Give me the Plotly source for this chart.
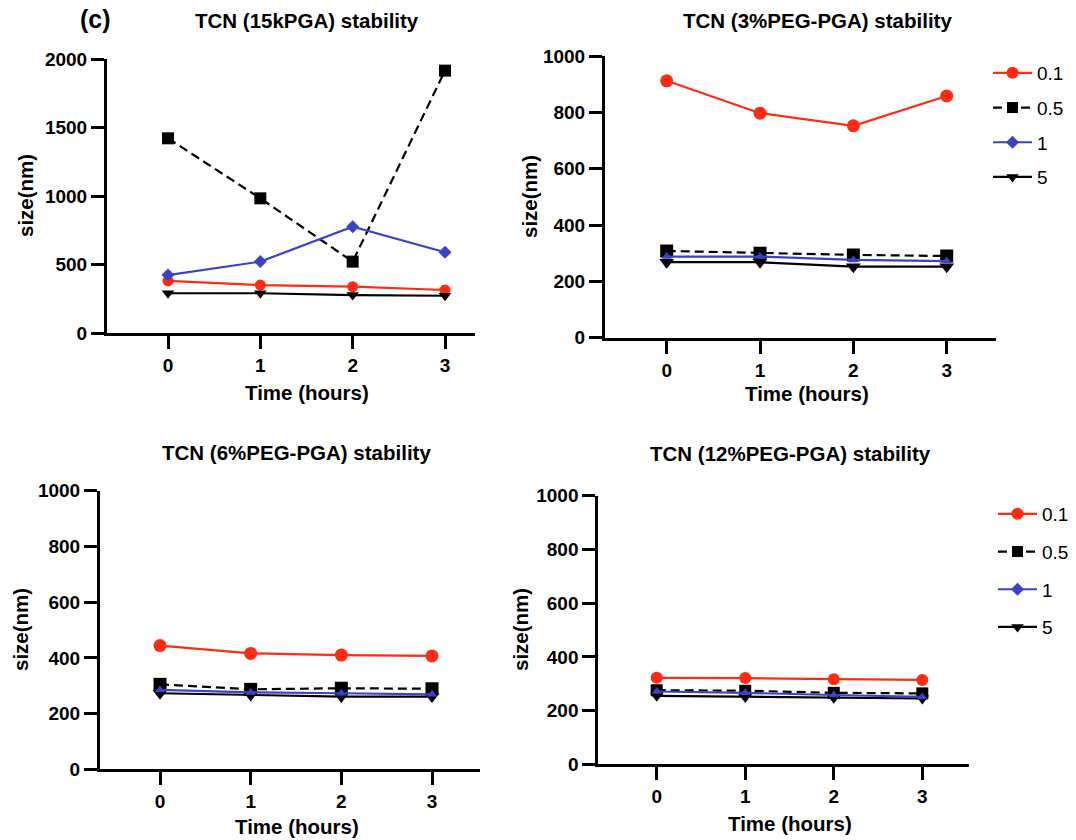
import plotly.graph_objects as go

# ---- data -----------------------------------------------------------------
hours = [0, 1, 2, 3]
series_names = ["0.1", "0.5", "1", "5"]

p1_titles = "TCN (15kPGA) stability"
p2_titles = "TCN (3%PEG-PGA) stability"
p3_titles = "TCN (6%PEG-PGA) stability"
p4_titles = "TCN (12%PEG-PGA) stability"

pga15_01 = [380, 350, 338, 314]
pga15_05 = [1421, 983, 521, 1915]
pga15_1 = [423, 521, 776, 589]
pga15_5 = [290, 290, 277, 272]

peg3_01 = [912, 797, 752, 858]
peg3_05 = [308, 300, 294, 290]
peg3_1 = [288, 288, 276, 272]
peg3_5 = [268, 268, 252, 252]

peg6_01 = [444, 416, 410, 407]
peg6_05 = [305, 287, 291, 289]
peg6_1 = [285, 276, 273, 269]
peg6_5 = [273, 267, 261, 261]

peg12_01 = [322, 321, 317, 314]
peg12_05 = [276, 274, 266, 264]
peg12_1 = [271, 266, 258, 251]
peg12_5 = [255, 251, 248, 245]

y_ticks_big = [0, 500, 1000, 1500, 2000]
y_ticks_small = [0, 200, 400, 600, 800, 1000]

# ---- styling --------------------------------------------------------------
W, H = 1076, 840
FONT = "Liberation Sans, Arial, Helvetica, sans-serif"
RED = "#FF2B12"
BLUE = "#3A43C6"
BLACK = "#000000"
DASH = "9px,5px"


def fx(px):
    return px / W


def fy(py):
    return 1 - py / H


# panel geometry in pixels: axis left/right, tick 0 / tick 3 positions,
# y position of 0 and of the top value
panels = [
    dict(left=107, right=475, t0=168, t3=445, ybot=333, ytop=59, ymax=2000,
         ticks=y_ticks_big, title=p1_titles,
         data=[pga15_01, pga15_05, pga15_1, pga15_5], blue_sym="diamond",
         sizes=(11, 12, 10, 11),
         title_xy=(307, 20), xt_xy=(307, 392), yt_xy=(25, 196)),
    dict(left=605, right=996, t0=666.7, t3=946.7, ybot=337.7, ytop=56, ymax=1000,
         ticks=y_ticks_small, title=p2_titles,
         data=[peg3_01, peg3_05, peg3_1, peg3_5], blue_sym="triangle-up",
         sizes=(13, 13, 9, 13),
         title_xy=(817, 20), xt_xy=(807, 393), yt_xy=(529, 197)),
    dict(left=100, right=480, t0=160, t3=432, ybot=769.3, ytop=490.7, ymax=1000,
         ticks=y_ticks_small, title=p3_titles,
         data=[peg6_01, peg6_05, peg6_1, peg6_5], blue_sym="triangle-up",
         sizes=(13, 13, 9, 13),
         title_xy=(297, 452), xt_xy=(297, 826), yt_xy=(20, 630)),
    dict(left=598.3, right=969, t0=656.7, t3=922.3, ybot=764.3, ytop=495.7, ymax=1000,
         ticks=y_ticks_small, title=p4_titles,
         data=[peg12_01, peg12_05, peg12_1, peg12_5], blue_sym="triangle-up",
         sizes=(12, 12, 9, 12),
         title_xy=(790, 453), xt_xy=(790, 823), yt_xy=(520, 630)),
]

fig = go.Figure()
annotations = []

for i, p in enumerate(panels):
    n = "" if i == 0 else str(i + 1)
    xa, ya = "x" + n, "y" + n
    s01, s05, s1, s5 = p["data"]
    sz01, sz05, sz1, sz5 = p["sizes"]

    # 0.1 (red circles)
    fig.add_trace(go.Scatter(
        x=hours, y=s01, xaxis=xa, yaxis=ya, mode="lines+markers", showlegend=False,
        line=dict(color=RED, width=2.2),
        marker=dict(symbol="circle", size=sz01, color=RED)))
    # 5 (black down triangles)
    fig.add_trace(go.Scatter(
        x=hours, y=s5, xaxis=xa, yaxis=ya, mode="lines+markers", showlegend=False,
        line=dict(color=BLACK, width=2.2),
        marker=dict(symbol="triangle-down", size=sz5, color=BLACK)))
    # 0.5 (black squares, dashed)
    fig.add_trace(go.Scatter(
        x=hours, y=s05, xaxis=xa, yaxis=ya, mode="lines+markers", showlegend=False,
        line=dict(color=BLACK, width=2.2, dash=DASH),
        marker=dict(symbol="square", size=sz05, color=BLACK)))
    # 1 (blue)
    fig.add_trace(go.Scatter(
        x=hours, y=s1, xaxis=xa, yaxis=ya, mode="lines+markers", showlegend=False,
        line=dict(color=BLUE, width=2.2),
        marker=dict(symbol=p["blue_sym"], size=sz1, color=BLUE)))

    ppu = (p["t3"] - p["t0"]) / 3.0
    xr = [(p["left"] - p["t0"]) / ppu, (p["right"] - p["t0"]) / ppu]
    axis_common = dict(
        showgrid=False, zeroline=False, showline=True, linecolor=BLACK, linewidth=3,
        ticks="outside", ticklen=13, tickwidth=3, tickcolor=BLACK,
        tickfont=dict(family=FONT, size=19, color=BLACK, weight="bold"),
        fixedrange=True, automargin=False,
    )
    fig.update_layout(**{
        ("xaxis" + n): dict(
            axis_common, domain=[fx(p["left"]), fx(p["right"])], range=xr,
            tickmode="array", tickvals=hours, ticktext=[str(h) for h in hours],
            anchor=ya),
        ("yaxis" + n): dict(
            axis_common, domain=[fy(p["ybot"]), fy(p["ytop"])], range=[0, p["ymax"]],
            tickmode="array", tickvals=p["ticks"], anchor=xa),
    })

    bold = dict(family=FONT, color=BLACK, weight="bold")
    annotations.append(dict(
        text=p["title"], x=fx(p["title_xy"][0]), y=fy(p["title_xy"][1]),
        xref="paper", yref="paper", showarrow=False, xanchor="center", yanchor="middle",
        font=dict(bold, size=20.5)))
    annotations.append(dict(
        text="Time (hours)", x=fx(p["xt_xy"][0]), y=fy(p["xt_xy"][1]),
        xref="paper", yref="paper", showarrow=False, xanchor="center", yanchor="middle",
        font=dict(bold, size=20.5)))
    annotations.append(dict(
        text="size(nm)", x=fx(p["yt_xy"][0]), y=fy(p["yt_xy"][1]), textangle=-90,
        xref="paper", yref="paper", showarrow=False, xanchor="center", yanchor="middle",
        font=dict(bold, size=20.5)))

annotations.append(dict(
    text="(c)", x=fx(95), y=fy(19), xref="paper", yref="paper", showarrow=False,
    xanchor="center", yanchor="middle",
    font=dict(family=FONT, size=25, color=BLACK, weight="bold")))

# legend keys for the right-hand panels
legend_styles = [
    dict(color=RED, symbol="circle", size=12, dash="solid"),
    dict(color=BLACK, symbol="square", size=11, dash=DASH),
    dict(color=BLUE, symbol="diamond", size=10, dash="solid"),
    dict(color=BLACK, symbol="triangle-down", size=11, dash="solid"),
]
for lg, xa, ya in [("legend", "x2", "y2"), ("legend2", "x4", "y4")]:
    for name, st in zip(series_names, legend_styles):
        fig.add_trace(go.Scatter(
            x=[None], y=[None], xaxis=xa, yaxis=ya, mode="lines+markers", name=name,
            legend=lg, legendgroup=lg + name, showlegend=True,
            line=dict(color=st["color"], width=2.2, dash=st["dash"]),
            marker=dict(symbol=st["symbol"], size=st["size"], color=st["color"])))

legend_common = dict(
    xanchor="left", yanchor="top", bgcolor="rgba(0,0,0,0)", borderwidth=0,
    font=dict(family=FONT, size=19, color=BLACK), itemsizing="trace", itemwidth=39,
)
fig.update_layout(
    width=W, height=H, margin=dict(l=0, r=0, t=0, b=0, autoexpand=False),
    paper_bgcolor="white", plot_bgcolor="white",
    annotations=annotations,
    legend=dict(legend_common, x=fx(988), y=fy(54), tracegroupgap=7),
    legend2=dict(legend_common, x=fx(993), y=fy(495), tracegroupgap=10),
)

fig.write_html("out.html")
